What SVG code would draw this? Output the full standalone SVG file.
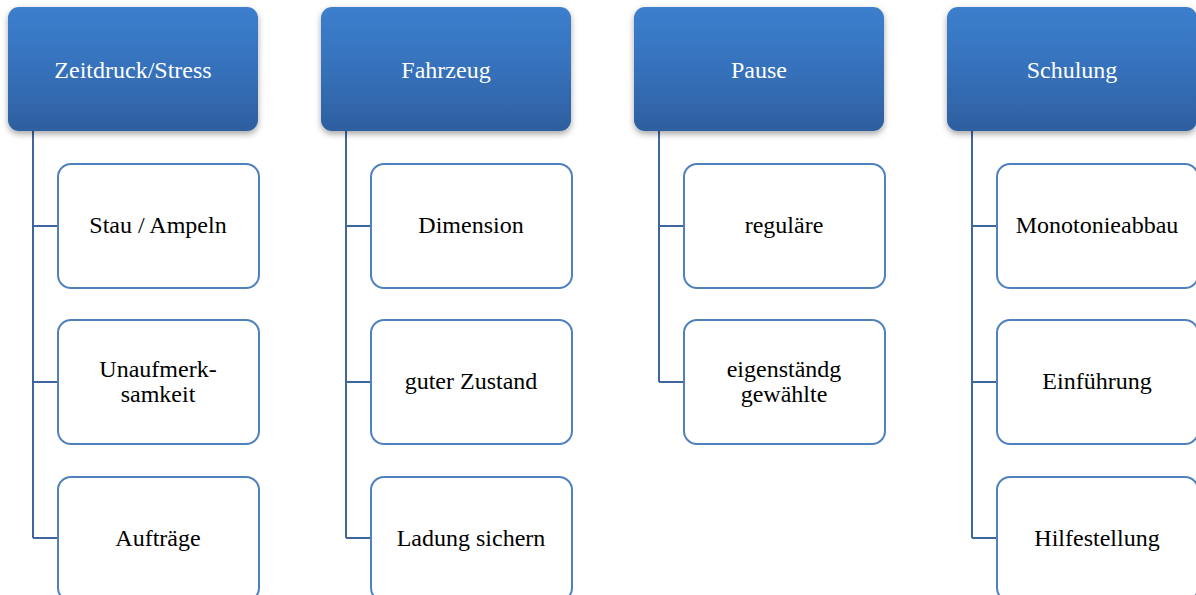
<svg xmlns="http://www.w3.org/2000/svg" width="1196" height="595" viewBox="0 0 1196 595">
<defs>
<linearGradient id="hg" x1="0" y1="0" x2="0" y2="1">
<stop offset="0" stop-color="#3c7fcd"/>
<stop offset="0.5" stop-color="#3671bb"/>
<stop offset="1" stop-color="#2d5f9f"/>
</linearGradient>
<filter id="sh" x="-10%" y="-10%" width="120%" height="130%">
<feDropShadow dx="0" dy="3" stdDeviation="3" flood-color="#000" flood-opacity="0.35"/>
</filter>
</defs>
<style>
.hd{fill:url(#hg);filter:url(#sh);}
.ht{fill:#fff;font-family:"Liberation Serif",serif;font-size:24px;text-anchor:middle;}
.cb{fill:#fff;stroke:#4f81bd;stroke-width:2;}
.ct{fill:#000;font-family:"Liberation Serif",serif;font-size:24px;text-anchor:middle;}
.cn{fill:none;stroke:#3e67a0;stroke-width:2;}
</style>
<rect width="1196" height="595" fill="#fff"/>
<g id="connectors">
<path class="cn" d="M33 131V538M33 226H58M33 382H58M33 538H58"/>
<path class="cn" d="M346 131V538M346 226H371M346 382H371M346 538H371"/>
<path class="cn" d="M659 131V382M659 226H684M659 382H684"/>
<path class="cn" d="M972 131V538M972 226H997M972 382H997M972 538H997"/>
</g>
<g id="h1"><rect class="hd" x="8" y="7" width="250" height="124" rx="11"/><text class="ht" x="133" y="78">Zeitdruck/Stress</text></g>
<g id="h2"><rect class="hd" x="321" y="7" width="250" height="124" rx="11"/><text class="ht" x="446" y="78">Fahrzeug</text></g>
<g id="h3"><rect class="hd" x="634" y="7" width="250" height="124" rx="11"/><text class="ht" x="759" y="78">Pause</text></g>
<g id="h4"><rect class="hd" x="947" y="7" width="250" height="124" rx="11"/><text class="ht" x="1072" y="78">Schulung</text></g>
<g id="c11"><rect class="cb" x="58" y="164" width="201" height="124" rx="13"/><text class="ct" x="158" y="233">Stau / Ampeln</text></g>
<g id="c12"><rect class="cb" x="58" y="320" width="201" height="124" rx="13"/><text class="ct" x="158" y="377">Unaufmerk-</text><text class="ct" x="158" y="402">samkeit</text></g>
<g id="c13"><rect class="cb" x="58" y="477" width="201" height="124" rx="13"/><text class="ct" x="158" y="546">Aufträge</text></g>
<g id="c21"><rect class="cb" x="371" y="164" width="201" height="124" rx="13"/><text class="ct" x="471" y="233">Dimension</text></g>
<g id="c22"><rect class="cb" x="371" y="320" width="201" height="124" rx="13"/><text class="ct" x="471" y="389">guter Zustand</text></g>
<g id="c23"><rect class="cb" x="371" y="477" width="201" height="124" rx="13"/><text class="ct" x="471" y="546">Ladung sichern</text></g>
<g id="c31"><rect class="cb" x="684" y="164" width="201" height="124" rx="13"/><text class="ct" x="784" y="233">reguläre</text></g>
<g id="c32"><rect class="cb" x="684" y="320" width="201" height="124" rx="13"/><text class="ct" x="784" y="377">eigenständg</text><text class="ct" x="784" y="402">gewählte</text></g>
<g id="c41"><rect class="cb" x="997" y="164" width="201" height="124" rx="13"/><text class="ct" x="1097" y="233">Monotonieabbau</text></g>
<g id="c42"><rect class="cb" x="997" y="320" width="201" height="124" rx="13"/><text class="ct" x="1097" y="389">Einführung</text></g>
<g id="c43"><rect class="cb" x="997" y="477" width="201" height="124" rx="13"/><text class="ct" x="1097" y="546">Hilfestellung</text></g>
</svg>
